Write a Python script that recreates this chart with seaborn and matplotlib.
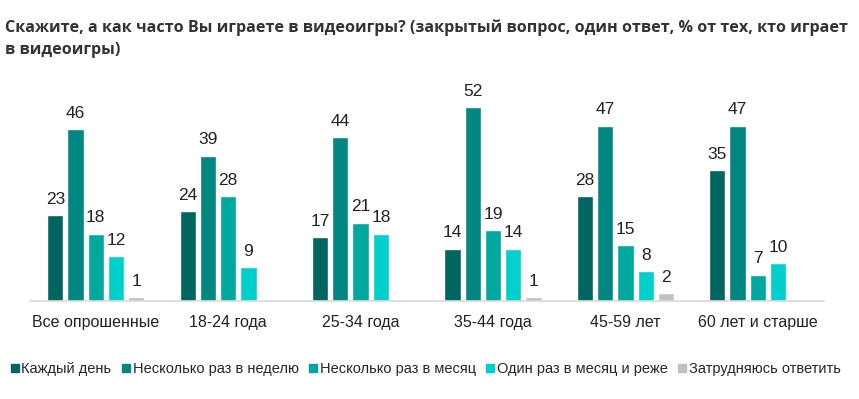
import numpy as np
import pandas as pd
import matplotlib
matplotlib.use("Agg")
import matplotlib.pyplot as plt
from matplotlib.lines import Line2D
import seaborn as sns

categories = ["Все опрошенные", "18-24 года", "25-34 года", "35-44 года", "45-59 лет", "60 лет и старше"]
series = ["Каждый день", "Несколько раз в неделю", "Несколько раз в месяц",
          "Один раз в месяц и реже", "Затрудняюсь ответить"]
every_day = [23, 24, 17, 14, 28, 35]
few_week = [46, 39, 44, 52, 47, 47]
few_month = [18, 28, 21, 19, 15, 7]
once_month = [12, 9, 18, 14, 8, 10]
dont_know = [1, np.nan, np.nan, 1, 2, np.nan]
colors = ["#00665F", "#008781", "#00A8A0", "#00CFCB", "#C0C0C0"]

rows = []
for s, vals in zip(series, [every_day, few_week, few_month, once_month, dont_know]):
    for c, v in zip(categories, vals):
        if not np.isnan(v):
            rows.append({"cat": c, "series": s, "value": v})
df = pd.DataFrame(rows)

sns.set_theme(style="white")
plt.rcParams['font.family'] = ['Liberation Sans', 'DejaVu Sans']

fig = plt.figure(figsize=(8.59, 3.99), dpi=100)
ax = fig.add_axes([29.6 / 859, 98.3 / 399, (824 - 29.6) / 859, 210.7 / 399])

sns.barplot(data=df, x="cat", y="value", hue="series", order=categories, hue_order=series,
            palette=colors, width=0.765, gap=0.2, dodge=True, ax=ax, legend=False,
            saturation=1, errorbar=None)

for cont in ax.containers:
    ax.bar_label(cont, fmt="%g", padding=6, fontsize=12.5, color="#222222")

ax.set_xlim(-0.5, 5.5)
ax.set_ylim(0, 56.6)
ax.set_xlabel("")
ax.set_ylabel("")
ax.set_yticks([])
for sp in ["left", "right", "top"]:
    ax.spines[sp].set_visible(False)
ax.spines["bottom"].set_color("#d9d9d9")
ax.spines["bottom"].set_linewidth(1.2)
ax.tick_params(axis="x", length=0, pad=10, labelsize=11.5, labelcolor="#222222")

fig.text(5 / 859, 1 - 28 / 399, "Скажите, а как часто Вы играете в видеоигры? (закрытый вопрос, один ответ, % от тех, кто играет",
         fontsize=11.6, fontweight="bold", color="#333333", family=["Open Sans", "DejaVu Sans"], va="center")
fig.text(5 / 859, 1 - 50 / 399, "в видеоигры)",
         fontsize=11.6, fontweight="bold", color="#333333", family=["Open Sans", "DejaVu Sans"], va="center")

handles = [Line2D([0], [0], marker="s", linestyle="none", markersize=5.5,
                  markerfacecolor=c, markeredgecolor=c) for c in colors]
fig.legend(handles, series, loc="center", bbox_to_anchor=(426 / 859, 1 - 369 / 399), ncol=5,
           frameon=False, handlelength=0.5, handletextpad=0.2, columnspacing=0.75,
           prop={"family": ["Liberation Sans", "DejaVu Sans"], "size": 10.5})

fig.savefig("out.png", dpi=100)
